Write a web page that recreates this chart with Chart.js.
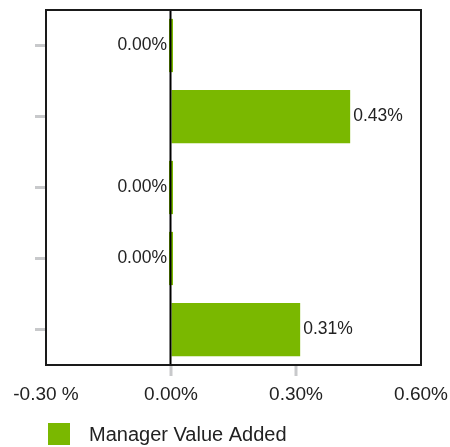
<!DOCTYPE html>
<html>
<head>
<meta charset="utf-8">
<script src="https://cdn.jsdelivr.net/npm/chart.js@4/dist/chart.umd.min.js"></script>
<style>
  html, body { margin: 0; padding: 0; background: #fff; }
  #wrap { width: 450px; height: 447px; }
</style>
</head>
<body>
<div id="wrap"><canvas id="mvaChart" width="450" height="447"></canvas></div>
<script>
// Rows of the chart (no visible row names)
const categories = ['', '', '', '', ''];
const seriesName = 'Manager Value Added';
const values = [0.00, 0.43, 0.00, 0.00, 0.31];
const xTicks = [-0.30, 0.00, 0.30, 0.60];

const GREEN = '#7ab800';
const TICK_GREY = '#c8c9cb';
const NONE = 'rgba(0,0,0,0)';
const FONT = "'Liberation Sans', Arial, sans-serif";

function fmtPct(v) {
  // negative ticks carry a space before the % sign
  return v < 0 ? v.toFixed(2) + ' %' : v.toFixed(2) + '%';
}

// box round the plot area, zero line over the bars, and the short
// grey marks under the inner x ticks
const frame = {
  id: 'frame',
  afterDatasetsDraw(chart) {
    const { ctx, chartArea: a } = chart;
    const x0 = chart.scales.x.getPixelForValue(0);
    ctx.save();
    ctx.strokeStyle = '#000';
    ctx.lineWidth = 2;
    ctx.beginPath();
    ctx.moveTo(x0 - 0.5, a.top);
    ctx.lineTo(x0 - 0.5, a.bottom);
    ctx.stroke();
    ctx.restore();
  },
  afterDraw(chart) {
    const { ctx, chartArea: a } = chart;
    const xs = chart.scales.x;
    ctx.save();
    ctx.strokeStyle = TICK_GREY;
    ctx.lineWidth = 3;
    xs.ticks.forEach(t => {
      if (t.value <= xs.min || t.value >= xs.max) return;
      const px = Math.round(xs.getPixelForValue(t.value));
      ctx.beginPath();
      ctx.moveTo(px, a.bottom);
      ctx.lineTo(px, a.bottom + 11);
      ctx.stroke();
    });
    ctx.strokeStyle = '#1a1a1a';
    ctx.lineWidth = 2;
    ctx.strokeRect(a.left, a.top, a.right - a.left, a.bottom - a.top);
    ctx.restore();
  }
};

// value text beside each bar
const barLabels = {
  id: 'barLabels',
  afterDatasetsDraw(chart) {
    const ctx = chart.ctx;
    const meta = chart.getDatasetMeta(0);
    ctx.save();
    ctx.font = '17.5px ' + FONT;
    ctx.fillStyle = '#222';
    ctx.textBaseline = 'middle';
    meta.data.forEach((bar, i) => {
      const v = values[i];
      if (v > 0) {
        ctx.textAlign = 'left';
        ctx.fillText(fmtPct(v), bar.x + 3, bar.y);
      } else {
        ctx.textAlign = 'right';
        ctx.fillText(fmtPct(v), bar.base - 6, bar.y);
      }
    });
    ctx.restore();
  }
};

// legend under the axis
const legendRow = {
  id: 'legendRow',
  afterDraw(chart) {
    const { ctx, chartArea: a } = chart;
    const y = chart.height - 24;
    ctx.save();
    ctx.fillStyle = GREEN;
    ctx.fillRect(a.left + 2, y, 22, 22);
    ctx.fillStyle = '#222';
    ctx.font = '20px ' + FONT;
    ctx.textAlign = 'left';
    ctx.textBaseline = 'middle';
    ctx.fillText(seriesName, a.left + 43, y + 12);
    ctx.restore();
  }
};

new Chart(document.getElementById('mvaChart'), {
  type: 'bar',
  data: {
    labels: categories,
    datasets: [{
      label: seriesName,
      data: values,
      backgroundColor: GREEN,
      borderWidth: 0,
      barPercentage: 0.75,
      categoryPercentage: 1,
      minBarLength: 4
    }]
  },
  options: {
    indexAxis: 'y',
    responsive: false,
    animation: false,
    layout: { padding: { top: 10, right: 29, left: 0, bottom: 0 } },
    plugins: {
      legend: { display: false },
      tooltip: { enabled: false }
    },
    scales: {
      x: {
        min: xTicks[0],
        max: xTicks[xTicks.length - 1],
        afterBuildTicks: (scale) => { scale.ticks = xTicks.map(v => ({ value: v })); },
        afterFit: (scale) => {
          scale.height = 82;
          scale.paddingLeft = 0;
          scale.paddingRight = 0;
        },
        border: { display: false },
        grid: {
          color: NONE,
          drawOnChartArea: false,
          tickColor: NONE,
          tickLength: 11
        },
        ticks: {
          callback: (v) => fmtPct(v),
          color: '#222',
          font: { family: FONT, size: 19 },
          padding: 7,
          maxRotation: 0
        }
      },
      y: {
        afterFit: (scale) => { scale.width = 46; },
        border: { display: false },
        grid: {
          offset: false,
          drawOnChartArea: false,
          color: NONE,
          tickColor: TICK_GREY,
          tickWidth: 3,
          tickLength: 11
        },
        ticks: { display: true, padding: 0 }
      }
    }
  },
  plugins: [frame, barLabels, legendRow]
});
</script>
</body>
</html>
